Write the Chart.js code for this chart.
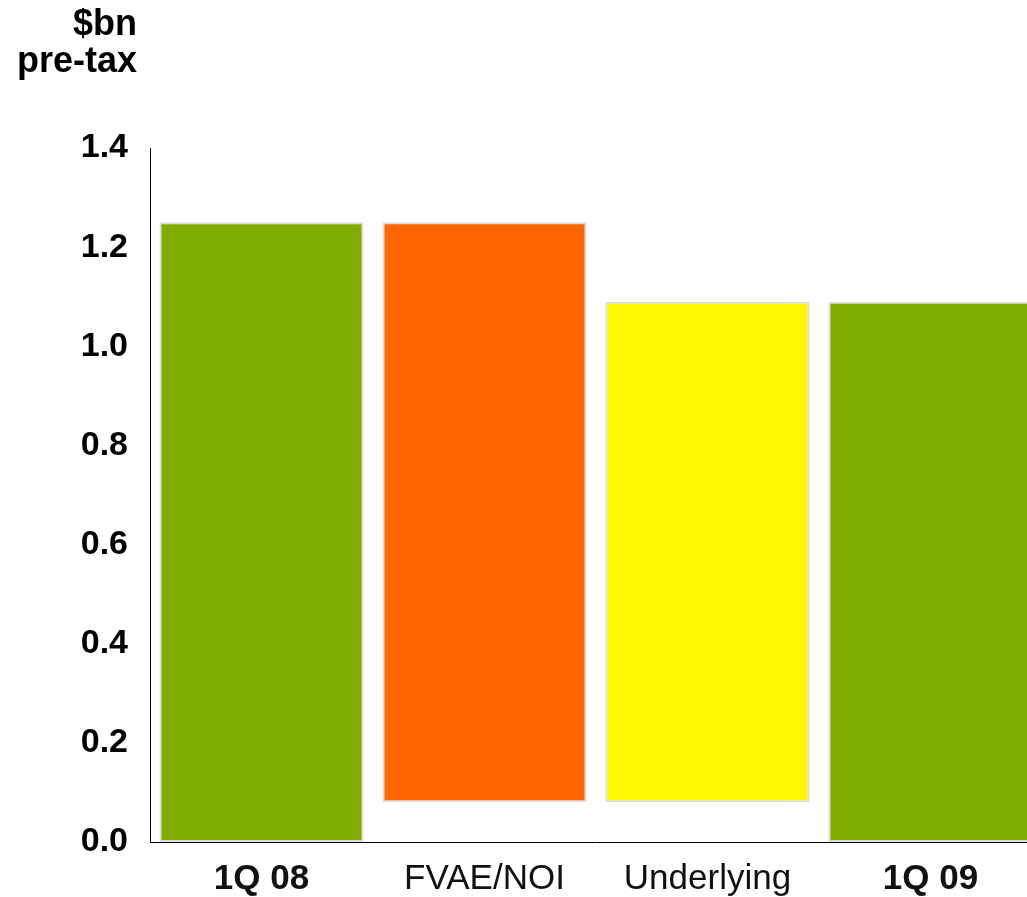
<!DOCTYPE html>
<html>
<head>
<meta charset="utf-8">
<script src="https://cdn.jsdelivr.net/npm/chart.js@4/dist/chart.umd.min.js"></script>
<style>
  html, body { margin: 0; padding: 0; background: #fff; overflow: hidden; }
  #wrap { position: relative; width: 1044px; height: 897px; }
  #unit {
    position: absolute; left: 0; top: 4px; width: 137px; text-align: right;
    font: bold 36px "Liberation Sans", Arial, sans-serif; line-height: 37px; color: #000;
  }
</style>
</head>
<body>
<div id="wrap">
  <canvas id="bridge-chart" width="1044" height="897"></canvas>
  <div id="unit">$bn<br>pre-tax</div>
</div>
<script>
const categories = ["1Q 08", "FVAE/NOI", "Underlying", "1Q 09"];
const barLows = [0, 0.08, 0.08, 0];
const barHighs = [1.25, 1.25, 1.09, 1.09];
const barColors = ["#80ad00", "#ff6600", "#fff700", "#80ad00"];
const boldLabels = [true, false, false, true];
const yTicks = { min: 0, max: 1.4, step: 0.2 };

(function startFunction() {
  bridgeChart();
})();

function bridgeChart() {
  const ctx = document.getElementById("bridge-chart").getContext("2d");
  const ranges = categories.map((c, i) => [barLows[i], barHighs[i]]);

  new Chart(ctx, {
    type: "bar",
    data: {
      labels: categories,
      datasets: [
        {
          data: ranges,
          backgroundColor: barColors,
          borderColor: "#dcdcdc",
          borderWidth: 2,
          borderSkipped: false,
          barPercentage: 0.915,
          categoryPercentage: 1,
        },
      ],
    },
    options: {
      responsive: false,
      animation: false,
      layout: { padding: { top: 148, right: 2, left: 0, bottom: 0 } },
      plugins: {
        legend: { display: false },
        tooltip: { enabled: false },
      },
      scales: {
        y: {
          min: yTicks.min,
          max: yTicks.max,
          afterFit: (scale) => { scale.width = 150; },
          grid: { display: false, drawTicks: false },
          border: { display: true, color: "#000", width: 1 },
          ticks: {
            stepSize: yTicks.step,
            padding: 22,
            color: "#000",
            callback: (v) => Number(v).toFixed(1),
            font: { size: 34, weight: "bold", family: "Liberation Sans" },
          },
        },
        x: {
          afterFit: (scale) => { scale.height = 55; },
          grid: { display: false, drawTicks: false },
          border: { display: true, color: "#000", width: 1 },
          ticks: {
            padding: 16,
            color: "#111",
            font: (c) => ({
              size: 35,
              family: "Liberation Sans",
              weight: boldLabels[c.index] ? "bold" : "normal",
            }),
          },
        },
      },
    },
  });
}
</script>
</body>
</html>
